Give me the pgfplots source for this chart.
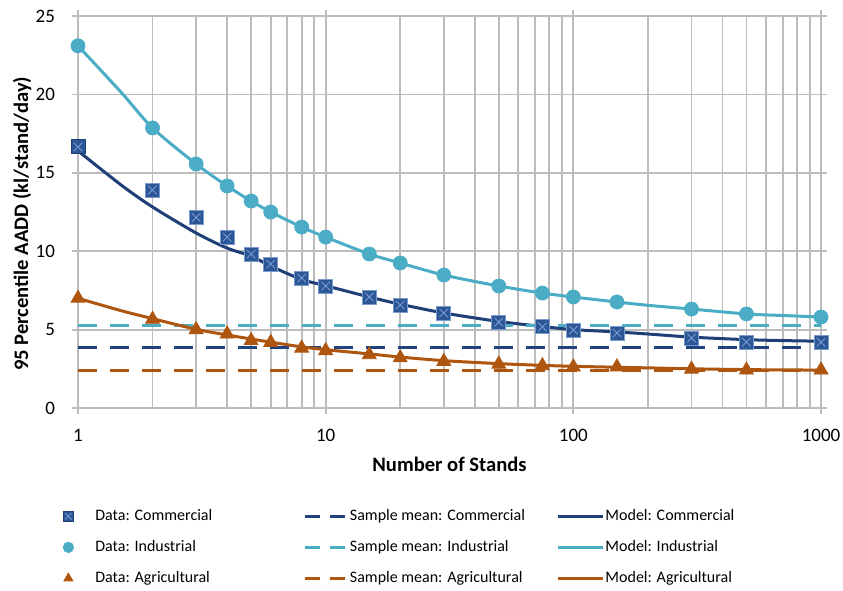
\documentclass[border=0pt]{standalone}
\usepackage{pgfplots}
\pgfplotsset{compat=1.18}
\usepackage{fontspec}
\setmainfont{Carlito}
\usetikzlibrary{plotmarks}

\definecolor{comm}{HTML}{2B5797}
\definecolor{commline}{HTML}{1F3F78}
\definecolor{commx}{HTML}{7B9AD0}
\definecolor{ind}{HTML}{4BACC6}
\definecolor{agr}{HTML}{AE560F}
\definecolor{gridc}{HTML}{BCBCBC}

\pgfdeclareplotmark{boxx}{%
  \pgfpathrectangle{\pgfqpoint{-\pgfplotmarksize}{-\pgfplotmarksize}}{\pgfqpoint{2\pgfplotmarksize}{2\pgfplotmarksize}}%
  \pgfusepathqfillstroke
  \pgfsetstrokecolor{commx}%
  \pgfsetlinewidth{0.45pt}%
  \pgfpathmoveto{\pgfqpoint{-0.6\pgfplotmarksize}{-0.6\pgfplotmarksize}}%
  \pgfpathlineto{\pgfqpoint{0.6\pgfplotmarksize}{0.6\pgfplotmarksize}}%
  \pgfpathmoveto{\pgfqpoint{-0.6\pgfplotmarksize}{0.6\pgfplotmarksize}}%
  \pgfpathlineto{\pgfqpoint{0.6\pgfplotmarksize}{-0.6\pgfplotmarksize}}%
  \pgfusepathqstroke
}

\pgfplotsset{
  dataleg/.style={legend image code/.code={\path[draw=none,fill=none] (-3.5pt,0pt) -- (13.5pt,0pt); \draw[##1, mark size=2.6pt] plot coordinates {(0pt,0pt)};}},
  meanleg/.style={legend image code/.code={\draw[##1, dash pattern=on 7.5pt off 5pt] (0pt,0pt) -- (20pt,0pt); \path[draw=none] (0pt,0pt) -- (22.5pt,0pt);}},
  modelleg/.style={legend image code/.code={\draw[##1] (0pt,0pt) -- (22.5pt,0pt); \path[draw=none] (0pt,0pt) -- (23.5pt,0pt);}},
}

\pgfplotstableread{
x    comm  ind   agr
1    16.65 23.10 7.00
2    13.90 17.86 5.66
3    12.15 15.56 5.00
4    10.90 14.16 4.72
5    9.82  13.20 4.30
6    9.18  12.50 4.18
8    8.29  11.54 3.82
10   7.78  10.90 3.66
15   7.08  9.82  3.40
20   6.57  9.25  3.20
30   6.06  8.48  2.97
50   5.48  7.78  2.80
75   5.17  7.33  2.70
100  4.97  7.08  2.62
150  4.78  6.76  2.62
300  4.46  6.31  2.48
500  4.20  6.00  2.42
1000 4.20  5.80  2.42
}\datatable

\pgfplotstableread{
x    comm  ind   agr
1    16.40 23.10 7.00
1.5  14.20 20.10 6.20
2    12.82 17.86 5.70
3    11.16 15.56 5.02
4    10.20 14.16 4.66
5    9.69  13.20 4.40
6    9.05  12.50 4.20
8    8.20  11.54 3.90
10   7.80  10.90 3.72
15   7.08  9.82  3.45
20   6.62  9.25  3.25
30   6.06  8.48  3.02
50   5.52  7.78  2.83
75   5.20  7.33  2.72
100  5.00  7.08  2.66
150  4.85  6.76  2.60
200  4.72  6.55  2.56
300  4.52  6.31  2.50
500  4.36  6.00  2.45
700  4.30  5.90  2.43
1000 4.26  5.80  2.42
}\modeltable

\pgfplotstableread{
x    comm  ind   agr
1    3.85  5.25  2.40
1000 3.85  5.25  2.40
}\meantable

\begin{document}
\begin{tikzpicture}
\begin{axis}[
  scale only axis,
  width=371.5pt, height=196pt,
  xmode=log, xmin=1, xmax=1000,
  ymin=0, ymax=25,
  xtick={1,10,100,1000}, xticklabels={1,10,100,1000},
  ytick={0,5,10,15,20,25},
  grid=both,
  grid style={gridc, line width=0.9pt},
  minor grid style={gridc, line width=0.9pt},
  axis line style={gridc, line width=0.9pt},
  tick align=outside,
  major tick length=3pt, minor tick length=0pt,
  tick style={gridc, line width=0.9pt},
  /pgf/number format/assume math mode=true,
  tick label style={font=\fontsize{9.5}{11}\selectfont, black},
  xticklabel style={yshift=-4pt},
  yticklabel style={xshift=-5pt},
  label style={font=\fontsize{10.3}{12}\selectfont\bfseries},
  xlabel={Number of Stands},
  ylabel={95 Percentile AADD (kl/stand/day)},
  xlabel style={at={(axis description cs:0.5,-0.125)}, anchor=north, inner sep=0pt},
  ylabel style={at={(axis description cs:-0.0754,0.47)}, anchor=center, inner sep=0pt},
  clip=false,
  legend columns=3,
  legend cell align=left,
  legend style={draw=none, fill=none, at={(-0.0229,-0.255)}, anchor=north west,
    column sep=0pt, row sep=7.5pt, inner sep=0pt,
    nodes={inner sep=0pt, font=\fontsize{8}{9.6}\selectfont, text height=6pt, text depth=2pt}},
]
% Commercial
\addplot[only marks, mark=boxx, mark size=3.5pt, draw=commline, fill=comm, line width=0.5pt, dataleg]
  table[x=x, y=comm] {\datatable};
\addlegendentry{\makebox[104pt][l]{Data: Commercial}}
\addplot[commline!85!comm, line width=1.6pt, dash pattern=on 9.5pt off 6.5pt, meanleg]
  table[x=x, y=comm] {\meantable};
\addlegendentry{\makebox[103.5pt][l]{Sample mean: Commercial}}
\addplot[commline, line width=1.5pt, smooth, modelleg]
  table[x=x, y=comm] {\modeltable};
\addlegendentry{\makebox[70pt][l]{Model: Commercial}}
% Industrial
\addplot[only marks, mark=*, mark size=3.5pt, draw=ind, fill=ind, dataleg]
  table[x=x, y=ind] {\datatable};
\addlegendentry{\makebox[104pt][l]{Data: Industrial}}
\addplot[ind, line width=1.6pt, dash pattern=on 9.5pt off 6.5pt, meanleg]
  table[x=x, y=ind] {\meantable};
\addlegendentry{\makebox[103.5pt][l]{Sample mean: Industrial}}
\addplot[ind, line width=1.5pt, smooth, modelleg]
  table[x=x, y=ind] {\modeltable};
\addlegendentry{\makebox[70pt][l]{Model: Industrial}}
% Agricultural
\addplot[only marks, mark=triangle*, mark size=4pt, draw=agr, fill=agr, dataleg]
  table[x=x, y=agr] {\datatable};
\addlegendentry{\makebox[104pt][l]{Data: Agricultural}}
\addplot[agr, line width=1.6pt, dash pattern=on 9.5pt off 6.5pt, meanleg]
  table[x=x, y=agr] {\meantable};
\addlegendentry{\makebox[103.5pt][l]{Sample mean: Agricultural}}
\addplot[agr, line width=1.5pt, smooth, modelleg]
  table[x=x, y=agr] {\modeltable};
\addlegendentry{\makebox[70pt][l]{Model: Agricultural}}
\end{axis}
\pgfresetboundingbox
\path[use as bounding box] ([xshift=-39pt,yshift=-91pt]current axis.south west) rectangle ([xshift=11pt,yshift=8pt]current axis.north east);
\end{tikzpicture}
\end{document}
